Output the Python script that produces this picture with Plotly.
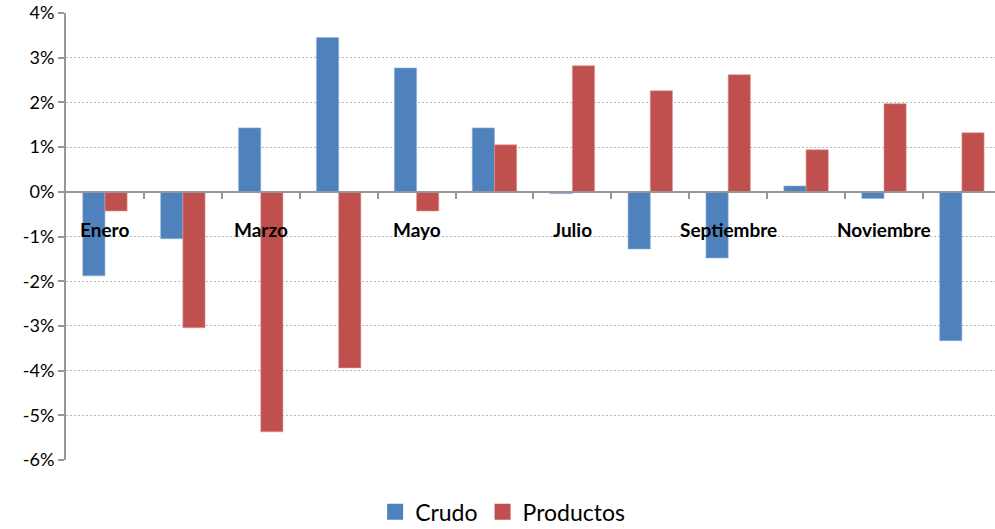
import plotly.graph_objects as go

meses = ["Enero", "Febrero", "Marzo", "Abril", "Mayo", "Junio",
         "Julio", "Agosto", "Septiembre", "Octubre", "Noviembre", "Diciembre"]
crudo = [-1.88, -1.05, 1.43, 3.45, 2.77, 1.43, -0.04, -1.28, -1.48, 0.13, -0.15, -3.33]
productos = [-0.43, -3.04, -5.37, -3.94, -0.43, 1.05, 2.82, 2.26, 2.62, 0.94, 1.97, 1.32]
y_ticks = [-6, -5, -4, -3, -2, -1, 0, 1, 2, 3, 4]
y_labels = ["-6%", "-5%", "-4%", "-3%", "-2%", "-1%", "0%", "1%", "2%", "3%", "4%"]

FONT = "Lato"
GRAY = "#969696"
AZUL = "#4F81BD"
ROJO = "#C0504D"
idx = list(range(len(meses)))

fig = go.Figure()
fig.add_trace(go.Bar(x=idx, y=crudo, name="Crudo", showlegend=False,
                     marker=dict(color=AZUL, line=dict(color="#8FB0DA", width=0.6))))
fig.add_trace(go.Bar(x=idx, y=productos, name="Productos", showlegend=False,
                     marker=dict(color=ROJO, line=dict(color="#DA9A98", width=0.6))))

# Legend entries with larger square swatches
for nombre, color in [("Crudo", AZUL), ("Productos", ROJO)]:
    fig.add_trace(go.Scatter(x=[None], y=[None], mode="markers", name=nombre,
                             marker=dict(symbol="square", size=16, color=color)))

# Month labels sit just below the zero line, every other month
for i, m in enumerate(meses):
    if i % 2 == 0:
        fig.add_annotation(x=i, y=-0.85, text=f"<b>{m}</b>", showarrow=False,
                           font=dict(family=FONT, size=19, color="#000000"),
                           xref="x", yref="y")

fig.update_layout(
    width=995, height=529,
    margin=dict(l=66, r=0, t=13, b=69, autoexpand=False),
    plot_bgcolor="white", paper_bgcolor="white",
    barmode="group", bargap=0.43, bargroupgap=0,
    font=dict(family=FONT, size=18, color="#000000"),
    showlegend=True,
    legend=dict(orientation="h", x=0.47, xanchor="center", y=-0.116, yanchor="middle",
                font=dict(family=FONT, size=23), itemwidth=30, tracegroupgap=0),
    yaxis=dict(range=[-6, 4], tickvals=y_ticks, ticktext=y_labels,
               showgrid=True, gridcolor="#B8B8B8", griddash="2px,2px", gridwidth=1,
               showline=True, linecolor=GRAY, linewidth=2,
               ticks="outside", ticklen=6, tickcolor=GRAY, tickwidth=1.5,
               zeroline=False, tickfont=dict(size=18)),
    # Category axis drawn across the zero level, ticks between months
    xaxis=dict(range=[-0.5, 11.425], tickvals=[i + 0.5 for i in idx[:-1]],
               showticklabels=False, showgrid=False, zeroline=False,
               showline=True, linecolor=GRAY, linewidth=2,
               ticks="outside", ticklen=6, tickcolor=GRAY, tickwidth=1.5,
               anchor="free", position=0.6),
)

fig.write_html("out.html")
